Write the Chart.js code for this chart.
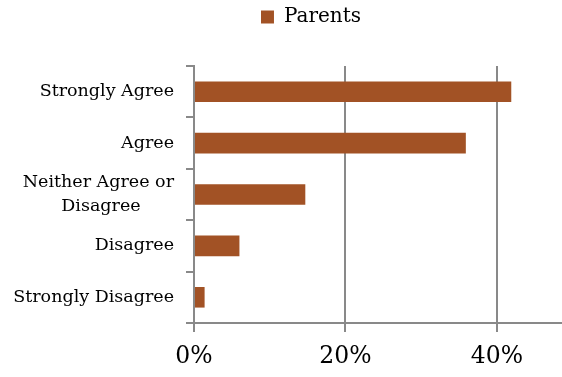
<!DOCTYPE html>
<html>
<head>
<meta charset="utf-8">
<script src="https://cdn.jsdelivr.net/npm/chart.js@4/dist/chart.umd.min.js"></script>
<style>
    html, body { margin: 0; padding: 0; background: #fff; overflow: hidden; }
</style>
</head>
<body>
<canvas id="chart" width="562" height="377"></canvas>
<script>
const categories = ['Strongly Agree', 'Agree', ['Neither Agree or', 'Disagree'], 'Disagree', 'Strongly Disagree'];
const parents = [41.9, 35.9, 14.7, 6.0, 1.4];
const xTicks = [0, 20, 40];
const xMax = 48.6;

const serif = "'DejaVu Serif', 'Liberation Serif', serif";
const gridGray = '#898989';
const labelSize = 17.5;

// centre the lines of a wrapped label inside its (right aligned) block
let measureCtx = document.createElement('canvas').getContext('2d');
const centerLines = function(label){
    if(!Array.isArray(label)){
        return label;
    }
    measureCtx.font = labelSize + "px " + serif;
    let widths = label.map(l => measureCtx.measureText(l).width);
    let widest = Math.max(...widths);
    let space = measureCtx.measureText(' ').width;
    return label.map((l, i) => l + ' '.repeat(Math.round((widest - widths[i]) / 2 / space)));
};

// legend sits a bit right of centre and leaves a gap above the plot
const legendTweak = {
    id: 'legendTweak',
    beforeLayout: function(chart){
        let legend = chart.legend;
        if(legend && !legend._tweaked){
            const fit = legend.fit;
            legend.fit = function(){
                fit.call(legend);
                legend.height = 66;
            };
            legend._tweaked = true;
        }
    },
    afterUpdate: function(chart){
        chart.legend.left += 30;
        chart.legend.right += 30;
    }
};

const data = {
    labels: categories,
    datasets: [
        {
            label: 'Parents',
            data: parents,
            backgroundColor: '#a25225',
            borderWidth: 0,
            categoryPercentage: 1,
            barPercentage: 0.4
        }
    ]
};

const config = {
    type: 'bar',
    data,
    options: {
        indexAxis: 'y',
        responsive: false,
        animation: false,
        layout: { padding: 0 },
        plugins: {
            legend: {
                position: 'top',
                labels: {
                    color: '#000',
                    boxWidth: 13,
                    boxHeight: 13,
                    padding: 7,
                    font: { family: serif, size: 20 }
                }
            },
            tooltip: { enabled: false }
        },
        scales: {
            x: {
                min: 0,
                max: xMax,
                afterBuildTicks: function(axis){
                    axis.ticks = xTicks.map(v => ({ value: v }));
                },
                afterFit: function(axis){
                    axis.height = 54;
                },
                ticks: {
                    color: '#000',
                    padding: 11,
                    maxRotation: 0,
                    font: { family: serif, size: 23.5 },
                    callback: v => v + '%'
                },
                grid: {
                    color: gridGray,
                    lineWidth: 2,
                    tickLength: 9
                },
                border: { color: gridGray, width: 2 }
            },
            y: {
                afterFit: function(axis){
                    axis.width = 194;
                },
                ticks: {
                    color: '#000',
                    padding: 12,
                    autoSkip: false,
                    font: { family: serif, size: labelSize, lineHeight: 1.4 },
                    callback: function(value){
                        return centerLines(this.getLabelForValue(value));
                    }
                },
                grid: {
                    offset: true,
                    drawOnChartArea: false,
                    color: gridGray,
                    lineWidth: 2,
                    tickLength: 8
                },
                border: { color: gridGray, width: 2 }
            }
        }
    },
    plugins: [legendTweak]
};

let chart = new Chart(document.getElementById('chart'), config);
</script>
</body>
</html>
